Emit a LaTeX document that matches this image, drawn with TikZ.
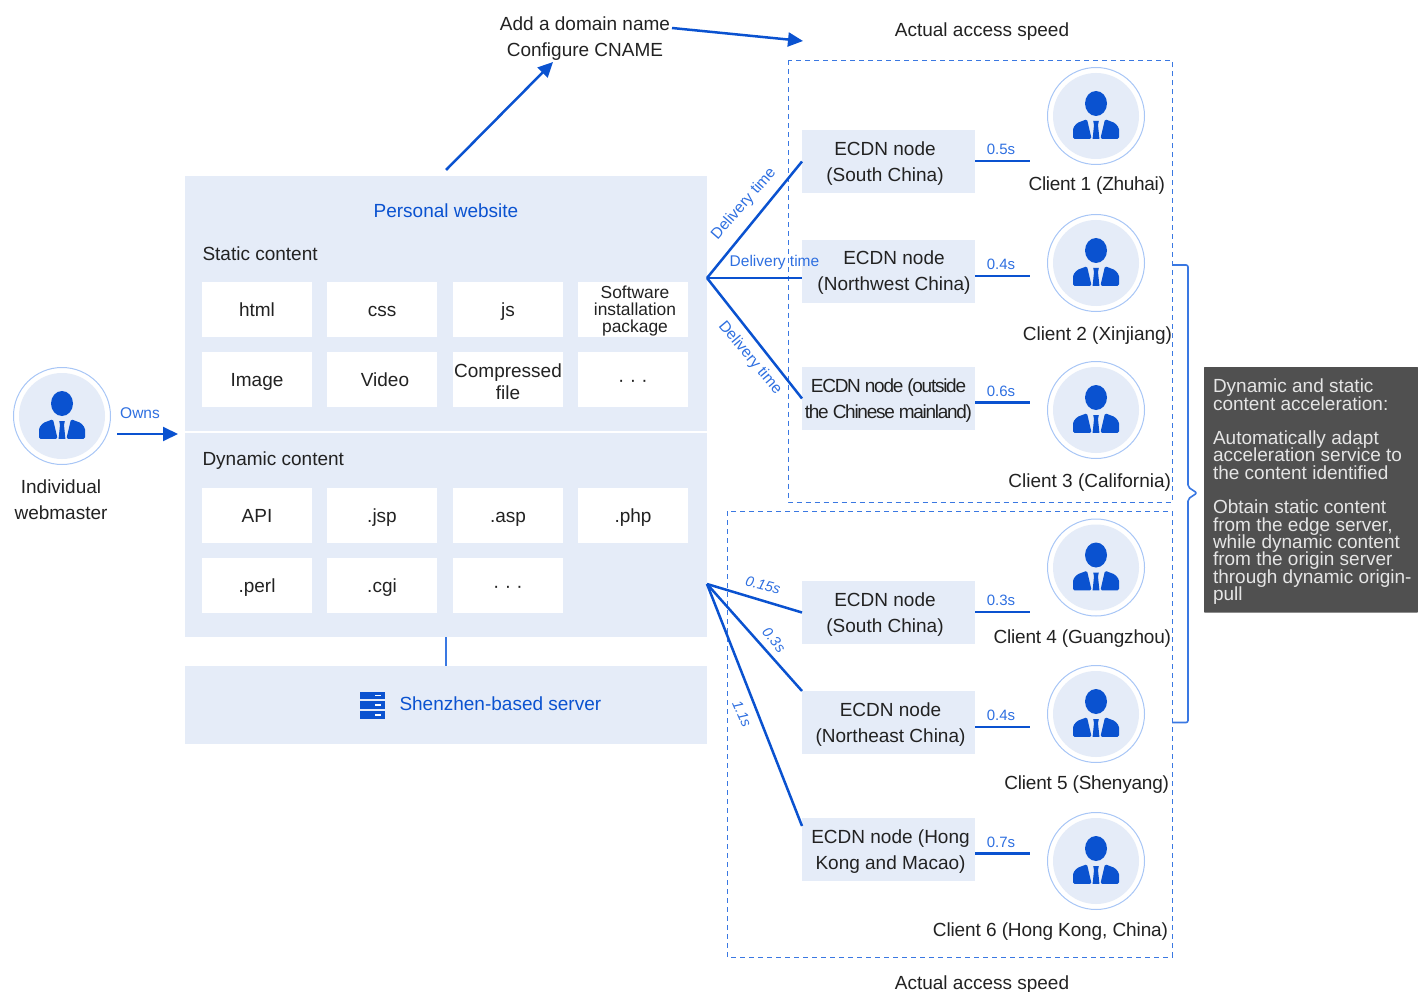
\documentclass[tikz,border=0pt]{standalone}
\usepackage{fontspec}
\setmainfont{Liberation Sans}
\usetikzlibrary{arrows.meta,calc}
\definecolor{panel}{HTML}{E5ECF8}
\definecolor{brand}{HTML}{0A52D0}
\definecolor{thinblue}{HTML}{3A78E2}
\definecolor{ringblue}{HTML}{A8C6F6}
\definecolor{ink}{HTML}{222222}
\definecolor{labelblue}{HTML}{2E6FE0}
\definecolor{slate}{HTML}{505050}
\tikzset{
  every node/.style={inner sep=0pt,outer sep=0pt,text=ink,font=\fontsize{19}{26}\selectfont},
  panelbox/.style={fill=panel,minimum width=#1,anchor=north west},
  whitebox/.style={fill=white,minimum width=110pt,minimum height=55pt,align=center},
  oneline/.style={text height=14pt,text depth=0pt},
  ecdnbox/.style={fill=panel,minimum width=173pt,minimum height=63pt},
  ecdntext/.style={align=center},
  link/.style={draw=brand,line width=2.5pt},
  arrowlink/.style={link,-{Triangle[length=15pt,width=14pt]}},
  guide/.style={draw=thinblue,line width=1pt,dash pattern=on 5pt off 4pt},
  ms/.style={text=labelblue,font=\fontsize{15.5}{18}\selectfont},
  mstime/.style={text=labelblue,font=\fontsize{15}{18}\selectfont},
  msit/.style={text=labelblue,font=\fontsize{14.5}{18}\selectfont\itshape},
  ring/.style={circle,draw=ringblue,line width=1pt,fill=white,minimum size=97pt},
  clientlabel/.style={anchor=east,font=\fontsize{19}{26}\selectfont\addfontfeature{LetterSpace=#1}},
  pics/personicon/.style={code={
    \fill[panel] (0,0) circle (43);
    \fill[brand] (0,-12.5) ellipse (11 and 12.5);
    \fill[brand,rounded corners=1.5pt] (-23,22.8) -- (-23,12) -- (-19,7) -- (-9,3.2) -- (-4.4,22.8) -- cycle;
    \fill[brand,rounded corners=1.5pt] (23,22.8) -- (23,12) -- (19,7) -- (9,3.2) -- (4.4,22.8) -- cycle;
    \fill[brand] (-2.8,5) -- (2.8,5) -- (2,9) -- (3.4,22.8) -- (-3.4,22.8) -- (-2,9) -- cycle;
  }}
}
\begin{document}
\begin{tikzpicture}[x=1pt,y=-1pt]
\useasboundingbox (0,0) rectangle (1418,992);

% guides
\draw[guide] (788,60.5) rectangle (1172,502);
\draw[guide] (727,511) rectangle (1172,957);

% panels
\node[panelbox=522pt,minimum height=255pt] (site1) at (184.5,176) {};
\node[panelbox=522pt,minimum height=204pt] (site2) at (184.5,433) {};
\node[panelbox=522pt,minimum height=78pt] (server) at (184.5,666) {};
\node[text=brand] (title) at (446,211) {Personal website};
\node[anchor=west] (static) at (202.5,254) {Static content};
\node[anchor=west] (dynamic) at (202.5,461) {Dynamic content};

% static content
\node[whitebox,oneline] (html) at (257,309.5) {html};
\node[whitebox,oneline] (css) at (382,309.5) {css};
\node[whitebox,oneline] (js) at (508,309.5) {js};
\node[whitebox] (pkg) at (633,309.5) {};
\node[align=center,font={\fontsize{17.4}{17.4}\selectfont\lineskiplimit=-20pt\relax}] (pkgt) at (635,311) {Software\\installation\\package};
\node[whitebox,oneline] (image) at (257,379.5) {Image};
\node[whitebox] (video) at (382,379.5) {};
\node[oneline] (videot) at (385,379.5) {Video};
\node[whitebox] (zip) at (508,379.5) {};
\node[align=center,font={\fontsize{19}{22.5}\selectfont\lineskiplimit=-20pt\relax}] (zipt) at (508,381.5) {Compressed\\file};
\node[whitebox,oneline] (more1) at (633,379.5) {· · ·};
% dynamic content
\node[whitebox,oneline] (api) at (257,515.5) {API};
\node[whitebox,oneline] (jsp) at (382,515.5) {.jsp};
\node[whitebox,oneline] (asp) at (508,515.5) {.asp};
\node[whitebox,oneline] (php) at (633,515.5) {.php};
\node[whitebox,oneline] (perl) at (257,585.5) {.perl};
\node[whitebox,oneline] (cgi) at (382,585.5) {.cgi};
\node[whitebox,oneline] (more2) at (508,585.5) {· · ·};

% server
\fill[brand] (359.5,692) rectangle (385,699.3);
\fill[brand] (359.5,701.3) rectangle (385,708.7);
\fill[brand] (359.5,711.3) rectangle (385,718.7);
\fill[white] (375,695) rectangle (381,696.4);
\fill[white] (375,704.4) rectangle (381,705.8);
\fill[white] (375,714.4) rectangle (381,715.8);
\node[text=brand,anchor=west] (servername) at (399.5,704) {Shenzhen-based server};
\draw[draw=thinblue,line width=2pt] ([xshift=0.5pt]site2.south) -- ([xshift=0.5pt]server.north);

% webmaster
\node[ring] (owner) at (62,416) {};
\pic at (owner.center) {personicon};
\node[align=center] (ownerlabel) at (61,500) {Individual\\webmaster};
\coordinate (ownsstart) at (117,434);
\coordinate (ownsend) at (178,434);
\draw[arrowlink,line width=2pt] (ownsstart) -- (ownsend);
\node[ms] (owns) at (140,413) {Owns};

% top labels
\node[align=center] (domain) at (585,39) {Add a domain name\\Configure CNAME};
\coordinate (domainin) at (553,62);
\coordinate (sitetop) at (446,170);
\coordinate (domainout) at (672,28);
\coordinate (speedin) at (803,41);
\draw[arrowlink] (sitetop) -- (domainin);
\draw[arrowlink] (domainout) -- (speedin);
\node (speedtop) at (982,32) {Actual access speed};
\node (speedbottom) at (982,985) {Actual access speed};

% ECDN nodes
\node[ecdnbox] (e1) at (888.5,161.5) {};
\node[ecdnbox] (e2) at (888.5,271.5) {};
\node[ecdnbox] (e3) at (888.5,398.5) {};
\node[ecdnbox] (e4) at (888.5,612.5) {};
\node[ecdnbox] (e5) at (888.5,722.5) {};
\node[ecdnbox] (e6) at (888.5,849.5) {};
\node[ecdntext] (e1t) at (885,163.5) {ECDN node\\(South China)};
\node[ecdntext] (e2t) at (894,273) {ECDN node\\(Northwest China)};
\node[ecdntext,font=\fontsize{19}{26}\selectfont\addfontfeature{LetterSpace=-6.7}] (e3t) at (888.5,400.5) {ECDN node (outside\\the Chinese mainland)};
\node[ecdntext] (e4t) at (885,614.5) {ECDN node\\(South China)};
\node[ecdntext] (e5t) at (890.5,724.5) {ECDN node\\(Northeast China)};
\node[ecdntext] (e6t) at (890.5,852) {ECDN node (Hong\\Kong and Macao)};

% origin fans
\coordinate (fan1) at (707,278);
\coordinate (fan2) at (707,584);
\coordinate (e6in) at (802,826);
\draw[link] (fan1) -- (e1.west);
\draw[link] (fan1) -- (e2.west |- fan1);
\draw[link] (fan1) -- (e3.west);
\draw[link] (fan2) -- (e4.west);
\draw[link] (fan2) -- (e5.north west);
\draw[link] (fan2) -- (e6in);
\node[ms,rotate=49] (dt1) at (744,204) {Delivery time};
\node[ms] (dt2) at (774.5,262) {Delivery time};
\node[ms,rotate=-50] (dt3) at (750,358) {Delivery time};
\node[msit,rotate=-15] (t1) at (763,585) {0.15s};
\node[msit,rotate=-50] (t2) at (774,640) {0.3s};
\node[msit,rotate=-66] (t3) at (742,714) {1.1s};

% clients
\foreach \n/\y in {c1/116,c2/263,c3/410,c4/567.5,c5/714,c6/861}{
  \node[ring] (\n) at (1096,\y) {};
  \pic at (\n.center) {personicon};
}
\node[clientlabel=-1.5] (l1) at (1165,186) {Client 1 (Zhuhai)};
\node[clientlabel=-0.3] (l2) at (1172,336) {Client 2 (Xinjiang)};
\node[clientlabel=0] (l3) at (1171,483) {Client 3 (California)};
\node[clientlabel=-1] (l4) at (1171,639) {Client 4 (Guangzhou)};
\node[clientlabel=-1.1] (l5) at (1169,785) {Client 5 (Shenyang)};
\node[clientlabel=-0.6] (l6) at (1168,932) {Client 6 (Hong Kong, China)};

% last-mile times
\coordinate (s1) at (1030,161);
\coordinate (s2) at (1030,276);
\coordinate (s3) at (1030,402.5);
\coordinate (s4) at (1030,612);
\coordinate (s5) at (1030,727);
\coordinate (s6) at (1030,853.5);
\draw[link] (e1.east |- s1) -- (s1);
\draw[link] (e2.east |- s2) -- (s2);
\draw[link] (e3.east |- s3) -- (s3);
\draw[link] (e4.east |- s4) -- (s4);
\draw[link] (e5.east |- s5) -- (s5);
\draw[link] (e6.east |- s6) -- (s6);
\node[mstime] (m1) at (1001,149) {0.5s};
\node[mstime] (m2) at (1001,264) {0.4s};
\node[mstime] (m3) at (1001,391) {0.6s};
\node[mstime] (m4) at (1001,600) {0.3s};
\node[mstime] (m5) at (1001,715) {0.4s};
\node[mstime] (m6) at (1001,842) {0.7s};

% brace and note
\draw[draw=thinblue,line width=1.6pt,line join=round,rounded corners=2pt] (1172,265) -- (1188,265) -- (1188,487) -- (1197,493) -- (1188,499) -- (1188,722.5) -- (1172,722.5);
\node[fill=slate,rounded corners=0.6pt,anchor=north west,minimum width=214pt,minimum height=245.5pt] (note) at (1204,367) {};
\node[anchor=north west,align=left,text=white!90!black,font={\fontsize{19}{17.3}\selectfont\lineskiplimit=-20pt\relax}] (notetext) at (1213,379) {Dynamic and static\\content acceleration:\\[17.3pt]Automatically adapt\\acceleration service to\\the content identified\\[17.3pt]Obtain static content\\from the edge server,\\while dynamic content\\from the origin server\\through dynamic origin-\\pull};
\end{tikzpicture}
\end{document}
